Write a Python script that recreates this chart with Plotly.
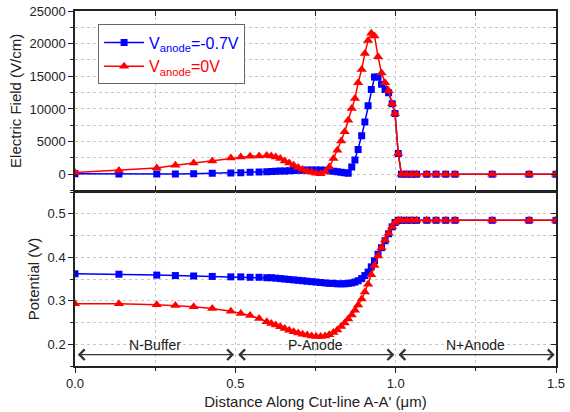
import plotly.graph_objects as go

# ---- data ----
X = [0.000, 0.137, 0.255, 0.313, 0.370, 0.428, 0.486, 0.517, 0.546, 0.574,
     0.598, 0.612, 0.626, 0.640, 0.654, 0.668, 0.682, 0.696, 0.710, 0.724,
     0.738, 0.752, 0.766, 0.780, 0.793, 0.806, 0.818, 0.830, 0.841, 0.852,
     0.863, 0.873, 0.883, 0.894, 0.904, 0.914, 0.924, 0.934, 0.945, 0.956,
     0.967, 0.978, 0.989, 0.998, 1.008, 1.018, 1.034, 1.050, 1.065, 1.097,
     1.126, 1.156, 1.185, 1.301, 1.416, 1.500]

E_red = [260, 600, 970, 1380, 1730, 2040, 2500, 2650, 2760, 2810,
         2870, 2810, 2650, 2410, 2040, 1730, 1380, 1030, 720, 510,
         300, 150, 100, 350, 1100, 2400, 3700, 5100, 6500, 8280,
         10080, 11610, 14000, 16060, 18510, 20500, 21580, 21170, 18000, 15500,
         14000, 12800, 10800, 9300, 3200, 0, 0, 0, 0, 0,
         0, 0, 0, 0, 0, 0]

E_blue = [100, 50, 30, 60, 100, 150, 200, 250, 300, 350,
          400, 430, 460, 490, 520, 550, 580, 610, 630, 650,
          660, 660, 650, 620, 560, 480, 400, 320, 250, 150,
          1100, 2200, 3800, 5900, 8000, 10500, 13000, 14900, 14900, 13800,
          13000, 12500, 10800, 9300, 3200, 0, 0, 0, 0, 0,
          0, 0, 0, 0, 0, 0]

V_blue = [0.362, 0.361, 0.359, 0.358, 0.357, 0.356, 0.355, 0.355, 0.354, 0.354,
          0.353, 0.353, 0.352, 0.351, 0.350, 0.349, 0.348, 0.347, 0.346, 0.345,
          0.344, 0.343, 0.342, 0.341, 0.340, 0.340, 0.339, 0.339, 0.339, 0.340,
          0.341, 0.343, 0.346, 0.351, 0.358, 0.366, 0.378, 0.392, 0.407, 0.422,
          0.438, 0.454, 0.470, 0.480, 0.485, 0.485, 0.485, 0.485, 0.485, 0.485,
          0.485, 0.485, 0.485, 0.485, 0.485, 0.485]

V_red = [0.293, 0.293, 0.291, 0.289, 0.286, 0.282, 0.276, 0.271, 0.266, 0.259,
         0.252, 0.248, 0.244, 0.240, 0.236, 0.232, 0.229, 0.226, 0.223, 0.221,
         0.219, 0.218, 0.218, 0.219, 0.222, 0.227, 0.233, 0.241, 0.249, 0.258,
         0.267, 0.278, 0.290, 0.304, 0.320, 0.338, 0.360, 0.381, 0.403, 0.422,
         0.440, 0.455, 0.470, 0.480, 0.485, 0.485, 0.485, 0.485, 0.485, 0.485,
         0.485, 0.485, 0.485, 0.485, 0.485, 0.485]

REGIONS = ["N-Buffer", "P-Anode", "N+Anode"]
REGION_BOUNDS = [(0.0, 0.5), (0.5, 1.0), (1.0, 1.5)]

BLUE = "#0000ff"
RED = "#ff0000"
INK = "#222222"
FONT = "Arial, Liberation Sans, sans-serif"

fig = go.Figure()

blue_name = "<span style='color:#0000ff'>V<sub>anode</sub>=-0.7V</span>"
red_name = "<span style='color:#ff0000'>V<sub>anode</sub>=0V</span>"

fig.add_trace(go.Scatter(x=X, y=E_blue, mode="lines+markers", name=blue_name,
                         line=dict(color=BLUE, width=1.5),
                         marker=dict(symbol="square", size=7, color=BLUE),
                         xaxis="x", yaxis="y"))
fig.add_trace(go.Scatter(x=X, y=E_red, mode="lines+markers", name=red_name,
                         line=dict(color=RED, width=1.5),
                         marker=dict(symbol="triangle-up", size=9, color=RED),
                         xaxis="x", yaxis="y"))
fig.add_trace(go.Scatter(x=X, y=V_blue, mode="lines+markers", showlegend=False,
                         line=dict(color=BLUE, width=1.5),
                         marker=dict(symbol="square", size=7, color=BLUE),
                         xaxis="x2", yaxis="y2"))
fig.add_trace(go.Scatter(x=X, y=V_red, mode="lines+markers", showlegend=False,
                         line=dict(color=RED, width=1.5),
                         marker=dict(symbol="triangle-up", size=9, color=RED),
                         xaxis="x2", yaxis="y2"))
# dummy traces for right-hand tick axes
fig.add_trace(go.Scatter(x=[None], y=[None], showlegend=False, hoverinfo="skip",
                         xaxis="x", yaxis="y3"))
fig.add_trace(go.Scatter(x=[None], y=[None], showlegend=False, hoverinfo="skip",
                         xaxis="x2", yaxis="y4"))

grid = dict(showgrid=True, gridcolor="#c8c8c8", griddash="dot", gridwidth=1)
axline = dict(showline=True, linecolor=INK, linewidth=1.5, zeroline=False,
              tickcolor=INK, automargin=False, ticklabeloverflow="allow",
              tickfont=dict(family=FONT, size=13, color=INK))
title_font = dict(family=FONT, size=15, color=INK)

TOP = [0.494, 1.0]
BOT = [0.0, 0.490]

fig.update_layout(
    width=570, height=412,
    margin=dict(l=75, r=14, t=11, b=46),
    paper_bgcolor="white", plot_bgcolor="white",
    font=dict(family=FONT, color=INK),
    showlegend=True,
    legend=dict(x=0.048, y=0.962, xanchor="left", yanchor="top",
                bgcolor="white", bordercolor="#666666", borderwidth=1,
                font=dict(family=FONT, size=16), tracegroupgap=0,
                itemwidth=40),
    xaxis=dict(domain=[0, 1], anchor="y", range=[0, 1.5], matches="x2",
               showticklabels=False, ticks="inside", ticklen=5, mirror="allticks",
               dtick=0.5, tick0=0,
               minor=dict(dtick=0.25, ticks="inside", ticklen=3, tickcolor=INK, **grid),
               **grid, **axline),
    yaxis=dict(domain=TOP, anchor="x", range=[-2500, 25000], dtick=5000, tick0=0,
               tickformat="d", ticks="outside", ticklen=5,
               minor=dict(dtick=2500, ticks="outside", ticklen=3, tickcolor=INK, **grid),
               title=dict(text="Electric Field (V/cm)", standoff=4, font=title_font),
               **grid, **axline),
    yaxis3=dict(overlaying="y", side="right", anchor="x", range=[-2500, 25000],
                dtick=5000, tick0=0, ticks="inside", ticklen=5, showticklabels=False,
                showgrid=False, automargin=False,
                minor=dict(dtick=2500, ticks="inside", ticklen=3, tickcolor=INK),
                showline=True, linecolor=INK, linewidth=1.5, zeroline=False,
                tickcolor=INK),
    xaxis2=dict(domain=[0, 1], anchor="y2", range=[0, 1.5], dtick=0.5, tick0=0,
                tickformat=".1f", ticks="outside", ticklen=5, mirror=True,
                minor=dict(dtick=0.25, ticks="outside", ticklen=3, tickcolor=INK, **grid),
                title=dict(text="Distance Along Cut-line A-A' (\u03bcm)", standoff=6,
                           font=title_font),
                **grid, **axline),
    yaxis2=dict(domain=BOT, anchor="x2", range=[0.15, 0.55], dtick=0.1, tick0=0.2,
                tickformat=".1f", ticks="outside", ticklen=5,
                minor=dict(dtick=0.05, ticks="outside", ticklen=3, tickcolor=INK, **grid),
                title=dict(text="Potential (V)", standoff=4, font=title_font),
                **grid, **axline),
    yaxis4=dict(overlaying="y2", side="right", anchor="x2", range=[0.15, 0.55],
                dtick=0.1, tick0=0.2, ticks="inside", ticklen=5, showticklabels=False,
                showgrid=False, automargin=False,
                minor=dict(dtick=0.05, ticks="inside", ticklen=3, tickcolor=INK),
                showline=True, linecolor=INK, linewidth=1.5, zeroline=False,
                tickcolor=INK),
)

ARROW_Y = 0.176
LABEL_Y = 0.198
for name, (a, b) in zip(REGIONS, REGION_BOUNDS):
    fig.add_annotation(x=b - 0.004, y=ARROW_Y, ax=a + 0.004, ay=ARROW_Y,
                       xref="x2", yref="y2", axref="x2", ayref="y2",
                       text="", showarrow=True, arrowhead=4, startarrowhead=4,
                       arrowside="end+start", arrowsize=1.7, startarrowsize=1.7,
                       arrowwidth=1.2, arrowcolor="#333333")
    fig.add_annotation(x=(a + b) / 2, y=LABEL_Y, xref="x2", yref="y2",
                       text=name, showarrow=False, yanchor="middle",
                       font=dict(family=FONT, size=14, color=INK))

# remove the page's default body margin so the 570x412 figure fills the window
fig.write_html("out.html",
               config={"displayModeBar": False},
               post_script="document.body.style.margin='0px';"
                           "document.body.style.overflow='hidden';")
